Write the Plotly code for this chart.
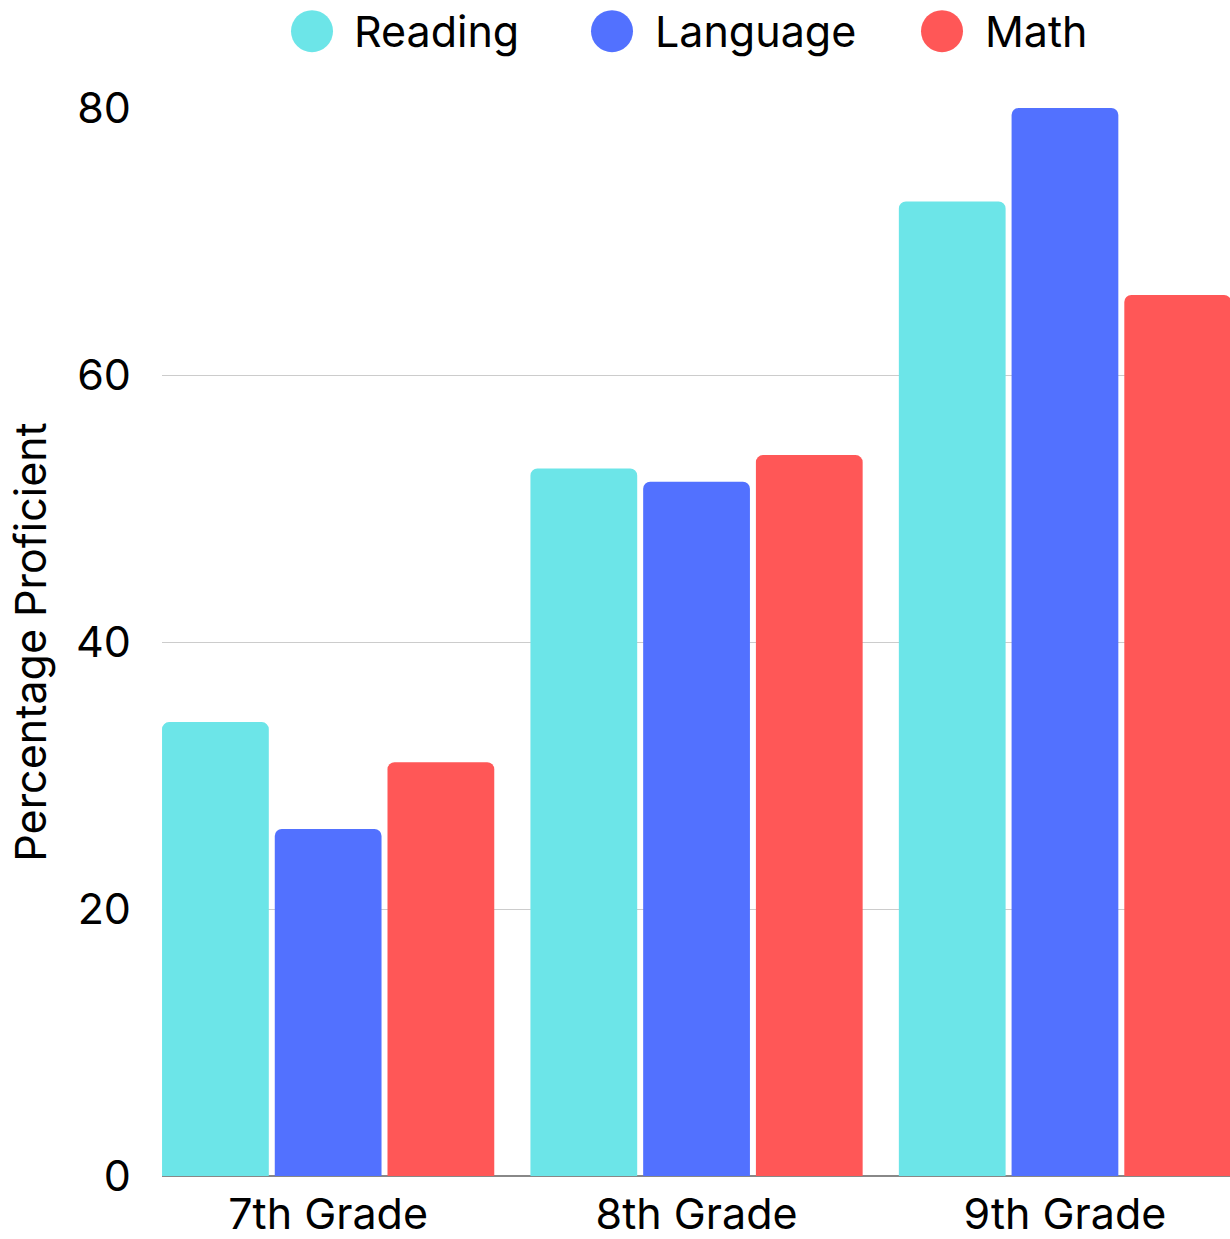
import plotly.graph_objects as go

# Proficiency by grade and subject (percent)
grades = ["7th Grade", "8th Grade", "9th Grade"]
subjects = ["Reading", "Language", "Math"]
reading = [34, 53, 73]
language = [26, 52, 80]
math = [31, 54, 66]
y_ticks = [0, 20, 40, 60, 80]

colors = ["#6CE5E8", "#5271FF", "#FF5757"]
series = [reading, language, math]
FONT = "Inter"
FS = 43

fig = go.Figure()
for name, vals, col in zip(subjects, series, colors):
    fig.add_trace(go.Bar(
        x=grades, y=vals, name=name, showlegend=False,
        marker=dict(color=col, line=dict(width=0)),
    ))

# Legend drawn as large circles with labels above the plot
W, H = 1230, 1239
ml, mr, mt, mb = 162, 0, 108, 61
pw, ph = W - ml - mr, H - mt - mb
legend_px = [(312, 352), (612, 653), (942, 983)]
legend_py = 31
shapes, annotations = [], []
for (cx, tx), name, col in zip(legend_px, subjects, colors):
    xa = (cx - ml) / pw
    ya = (H - mb - legend_py) / ph
    shapes.append(dict(
        type="circle", xref="paper", yref="paper",
        xsizemode="pixel", ysizemode="pixel",
        xanchor=xa, yanchor=ya, x0=-21, x1=21, y0=-21, y1=21,
        fillcolor=col, line=dict(width=0),
    ))
    annotations.append(dict(
        text=name, xref="paper", yref="paper",
        x=(tx - ml) / pw, y=ya, xanchor="left", yanchor="middle",
        showarrow=False, font=dict(family=FONT, size=FS, color="black"),
    ))

fig.update_layout(
    width=W, height=H,
    margin=dict(l=ml, r=mr, t=mt, b=mb),
    paper_bgcolor="white", plot_bgcolor="white",
    barmode="group", bargap=0.082, bargroupgap=0.053,
    barcornerradius=7,
    font=dict(family=FONT, size=FS, color="black"),
    shapes=shapes, annotations=annotations,
    xaxis=dict(
        range=[-0.451, 2.448], showgrid=False, ticks="",
        showline=False, tickfont=dict(size=FS), ticklabelstandoff=9,
    ),
    yaxis=dict(
        range=[0, 80], tickvals=y_ticks, showgrid=True,
        gridcolor="#cccccc", gridwidth=1,
        zeroline=True, zerolinecolor="#888888", zerolinewidth=1.5,
        tickfont=dict(size=FS), ticklabelstandoff=30,
        title=dict(text="Percentage Proficient", font=dict(size=FS), standoff=16),
    ),
)

fig.write_html("out.html")
